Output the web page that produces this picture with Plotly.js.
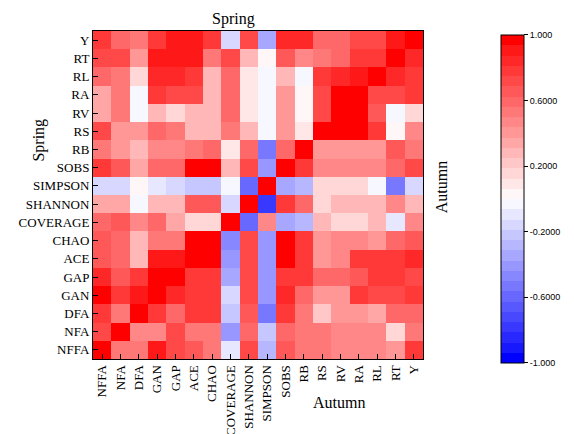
<!DOCTYPE html>
<html>
<head>
<meta charset="utf-8">
<script src="https://cdn.plot.ly/plotly-3.0.1.min.js"></script>
<style>html,body{margin:0;padding:0;background:#fff;}#chart{width:574px;height:434px;}</style>
</head>
<body>
<div id="chart"></div>
<script>
// Column categories (Autumn, bottom axis, left to right)
const xLabels = ["NFFA","NFA","DFA","GAN","GAP","ACE","CHAO","COVERAGE","SHANNON","SIMPSON","SOBS","RB","RS","RV","RA","RL","RT","Y"];
// Row categories (Spring, left axis, top to bottom)
const yLabels = ["Y","RT","RL","RA","RV","RS","RB","SOBS","SIMPSON","SHANNON","COVERAGE","CHAO","ACE","GAP","GAN","DFA","NFA","NFFA"];
// Colorbar ticks
const cbTickVals = [1, 0.6, 0.2, -0.2, -0.6, -1];
const cbTickText = ["1.000","0.6000","0.2000","-0.2000","-0.6000","-1.000"];

// Correlation values, one array per row (top to bottom)
const rowY        = [0.75,0.58,0.52,0.80,0.88,0.88,0.80,-0.18,0.70,-0.35,0.85,0.85,0.58,0.58,0.72,0.72,0.90,1.00];
const rowRT       = [0.70,0.73,0.40,0.90,0.88,0.90,0.52,0.73,0.30,0.04,0.67,0.45,0.52,0.58,0.77,0.77,1.00,0.85];
const rowRL       = [0.58,0.50,0.17,0.83,0.83,0.80,0.25,0.58,0.10,-0.05,0.30,-0.03,0.80,0.83,0.90,1.00,0.83,0.77];
const rowRA       = [0.33,0.50,-0.05,0.80,0.73,0.73,0.30,0.58,0.10,-0.05,0.43,0.04,0.72,1.00,1.00,0.72,0.72,0.77];
const rowRV       = [0.33,0.50,-0.05,0.25,0.17,0.30,0.30,0.58,0.10,-0.05,0.43,0.04,0.72,1.00,1.00,0.67,-0.05,0.17];
const rowRS       = [0.70,0.43,0.43,0.58,0.50,0.30,0.30,0.52,0.25,-0.05,0.43,0.12,1.00,1.00,0.98,0.77,0.04,0.45];
const rowRB       = [0.55,0.40,0.25,0.45,0.45,0.52,0.58,0.10,0.62,-0.52,0.58,1.00,0.40,0.40,0.40,0.40,0.65,0.52];
const rowSOBS     = [0.75,0.67,0.33,0.58,0.58,1.00,1.00,0.30,0.73,-0.40,1.00,0.77,0.45,0.45,0.45,0.45,0.58,0.72];
const rowSIMPSON  = [-0.17,-0.17,0.04,-0.12,-0.18,-0.25,-0.25,-0.03,-0.58,1.00,-0.37,-0.30,0.17,0.17,0.17,-0.03,-0.52,-0.13];
const rowSHANNON  = [0.37,0.37,-0.05,0.25,0.30,0.65,0.65,-0.17,1.00,-0.80,0.77,0.58,0.17,0.25,0.25,0.30,0.45,0.30];
const rowCOVERAGE = [0.58,0.65,0.45,0.58,0.33,0.17,0.17,1.00,-0.58,0.45,-0.37,-0.30,0.25,0.17,0.17,0.30,-0.12,0.45];
const rowCHAO     = [0.65,0.58,0.25,0.52,0.52,1.00,1.00,-0.45,0.70,-0.40,1.00,0.80,0.40,0.45,0.45,0.40,0.58,0.65];
const rowACE      = [0.65,0.58,0.25,0.88,0.88,1.00,1.00,-0.40,0.70,-0.40,1.00,0.80,0.40,0.45,0.77,0.77,0.77,0.83];
const rowGAP      = [0.83,0.65,0.80,0.94,1.00,0.80,0.77,-0.33,0.70,-0.40,0.80,0.75,0.58,0.58,0.65,0.75,0.80,0.72];
const rowGAN      = [1.00,0.77,0.90,1.00,0.83,0.80,0.77,-0.17,0.70,-0.40,0.85,0.58,0.40,0.40,0.77,0.72,0.72,0.77];
const rowDFA      = [0.77,0.50,1.00,0.80,0.58,0.77,0.77,-0.25,0.65,-0.52,0.80,0.50,0.22,0.40,0.40,0.35,0.62,0.62];
const rowNFA      = [0.70,1.00,0.45,0.45,0.72,0.52,0.52,-0.40,0.58,-0.25,0.58,0.50,0.50,0.45,0.45,0.45,0.17,0.52];
const rowNFFA     = [1.00,0.50,0.50,0.90,0.72,0.65,0.55,-0.10,0.70,-0.30,0.65,0.50,0.50,0.45,0.45,0.45,0.40,0.80];

const z = [rowY,rowRT,rowRL,rowRA,rowRV,rowRS,rowRB,rowSOBS,rowSIMPSON,rowSHANNON,rowCOVERAGE,rowCHAO,rowACE,rowGAP,rowGAN,rowDFA,rowNFA,rowNFFA];

// Stepped blue-white-red colorscale (banded like the reference colorbar)
function bandColor(v) {
  if (v >= 0) { const c = Math.round(255 * (1 - v)); return 'rgb(255,' + c + ',' + c + ')'; }
  const c = Math.round(255 * (1 + v)); return 'rgb(' + c + ',' + c + ',255)';
}
const nBands = 32;
const colorscale = [];
for (let i = 0; i < nBands; i++) {
  const mid = -1 + (i + 0.5) * 2 / nBands;
  const col = bandColor(i === 0 ? -1 : (i === nBands - 1 ? 1 : mid));
  colorscale.push([i / nBands, col]);
  colorscale.push([(i + 1) / nBands, col]);
}

const serif = "Liberation Serif, Times New Roman, serif";

const trace = {
  type: 'heatmap',
  x: xLabels,
  y: yLabels,
  z: z,
  zmin: -1, zmax: 1,
  colorscale: colorscale,
  colorbar: {
    x: 1.2375, xanchor: 'left', xpad: 0,
    y: 0.488, yanchor: 'middle', ypad: 0,
    lenmode: 'pixels', len: 328,
    thickness: 23,
    outlinewidth: 1, outlinecolor: '#000',
    tickvals: cbTickVals, ticktext: cbTickText,
    ticks: 'outside', ticklen: 4, tickcolor: '#000',
    tickfont: {family: "Liberation Sans, Arial, sans-serif", size: 9, color: '#000'}
  }
};

const layout = {
  width: 574, height: 434,
  margin: {l: 93, r: 140, t: 31, b: 75},
  paper_bgcolor: '#fff', plot_bgcolor: '#fff',
  xaxis: {
    type: 'category',
    tickangle: -90,
    ticks: 'inside', ticklen: 5, tickcolor: '#000', tickwidth: 1,
    showline: true, linecolor: '#000', linewidth: 1, mirror: true,
    tickfont: {family: serif, size: 13, color: '#000'},
    showgrid: false, zeroline: false
  },
  yaxis: {
    type: 'category',
    autorange: 'reversed',
    ticks: 'inside', ticklen: 5, tickcolor: '#000', tickwidth: 1,
    showline: true, linecolor: '#000', linewidth: 1, mirror: true,
    tickfont: {family: serif, size: 13, color: '#000'},
    showgrid: false, zeroline: false
  },
  annotations: [
    {text: 'Spring', xref: 'paper', yref: 'paper', x: 0.425, y: 1.036, xanchor: 'center', yanchor: 'middle', showarrow: false, font: {family: serif, size: 16, color: '#000'}},
    {text: 'Spring', xref: 'paper', yref: 'paper', x: -0.1625, y: 0.667, xanchor: 'center', yanchor: 'middle', textangle: -90, showarrow: false, font: {family: serif, size: 16, color: '#000'}},
    {text: 'Autumn', xref: 'paper', yref: 'paper', x: 0.746, y: -0.132, xanchor: 'center', yanchor: 'middle', showarrow: false, font: {family: serif, size: 16, color: '#000'}},
    {text: 'Autumn', xref: 'paper', yref: 'paper', x: 1.057, y: 0.523, xanchor: 'center', yanchor: 'middle', textangle: -90, showarrow: false, font: {family: serif, size: 16, color: '#000'}}
  ]
};

Plotly.newPlot('chart', [trace], layout, {displayModeBar: false, staticPlot: true});
</script>
</body>
</html>
